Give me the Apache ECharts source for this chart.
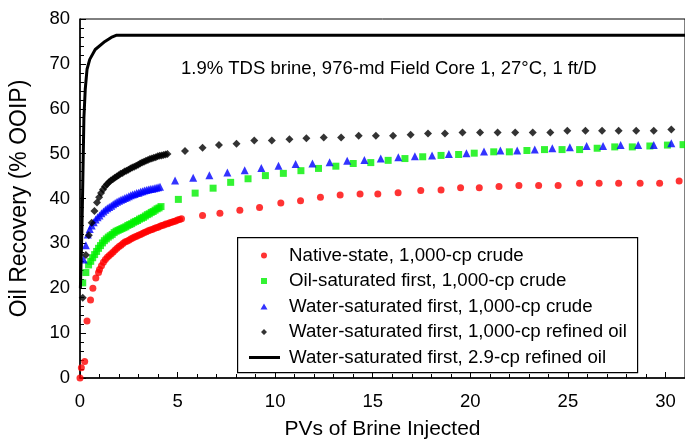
<!DOCTYPE html>
<html>
<head>
<meta charset="utf-8">
<script src="https://cdn.jsdelivr.net/npm/echarts@6/dist/echarts.min.js"></script>
<style>html,body{margin:0;padding:0;background:#fff}#c{width:685px;height:445px}</style>
</head>
<body>
<div id="c"></div>
<script>
// Native-state, 1,000-cp crude
const nativeState = [
  [0,0],[0.07,2.3],[0.24,3.7],[0.36,12.7],[0.54,17.4],[0.66,20.0],[0.81,22.3],[0.95,23.5],
  [1.0,24.2],[1.1,25.0],[1.2,25.8],[1.3,26.4],[1.4,26.9],[1.5,27.3],[1.6,27.7],[1.7,28.1],[1.8,28.5],[1.9,28.9],
  [2.0,29.3],[2.1,29.6],[2.2,30.0],[2.3,30.3],[2.4,30.5],[2.5,30.7],[2.6,31.0],[2.7,31.2],[2.8,31.4],[2.9,31.6],
  [3.0,31.8],[3.1,32.0],[3.2,32.2],[3.3,32.4],[3.4,32.6],[3.5,32.8],[3.6,33.0],[3.7,33.1],[3.8,33.3],[3.9,33.5],
  [4.0,33.6],[4.1,33.8],[4.2,34.0],[4.3,34.1],[4.4,34.3],[4.5,34.4],[4.6,34.6],[4.7,34.7],[4.8,34.9],[4.9,35.0],
  [5.0,35.2],[5.1,35.3],[5.2,35.5],
  [6.28,36.2],[7.17,36.7],[8.19,37.4],[9.2,38.0],[10.29,39.0],[11.3,39.5],[12.32,40.3],[13.33,40.8],[14.35,41.0],
  [15.26,41.0],[16.3,41.3],[17.46,41.8],[18.5,41.9],[19.5,42.4],[20.46,42.4],[21.47,42.7],[22.49,42.9],[23.5,42.9],
  [24.5,42.9],[25.6,43.4],[26.6,43.4],[27.6,43.4],[28.7,43.4],[29.7,43.4],[30.7,43.9]
];
// Oil-saturated first, 1,000-cp crude
const oilSatFirst = [
  [0.14,21.2],[0.3,23.5],[0.44,25.2],[0.55,26.0],[0.65,26.8],[0.75,27.5],[0.85,28.2],[0.95,28.9],[1.05,29.5],
  [1.15,30.1],[1.25,30.6],[1.35,31.0],[1.45,31.4],[1.55,31.7],[1.65,32.0],[1.75,32.4],[1.85,32.7],[1.95,32.9],
  [2.05,33.1],[2.15,33.3],[2.25,33.5],[2.35,33.7],[2.45,34.0],[2.55,34.2],[2.65,34.4],[2.75,34.7],[2.85,34.9],
  [2.95,35.1],[3.05,35.4],[3.15,35.6],[3.25,35.8],[3.35,36.1],[3.45,36.4],[3.55,36.6],[3.65,36.9],[3.75,37.1],
  [3.85,37.4],[3.95,37.7],[4.05,37.9],[4.15,38.2],
  [5.04,39.8],[5.9,41.2],[6.82,42.3],[7.72,43.6],[8.61,44.4],[9.5,45.1],[10.42,45.6],[11.32,46.2],[12.22,46.7],
  [13.11,47.2],[14.0,47.8],[14.9,48.0],[15.79,48.5],[16.65,48.9],[17.56,49.3],[18.5,49.6],[19.4,49.8],[20.2,50.1],
  [21.2,50.4],[22.0,50.4],[22.9,50.7],[23.8,50.9],[24.7,50.9],[25.6,50.9],[26.5,51.2],[27.4,51.5],[28.3,51.5],
  [29.2,51.7],[30.1,51.9],[30.9,52.0]
];
// Water-saturated first, 1,000-cp crude
const waterSatCrude = [
  [0.19,26.4],[0.3,29.6],[0.4,32.0],[0.5,33.2],[0.6,34.0],[0.7,34.7],[0.8,35.3],[0.9,35.8],[1.0,36.2],[1.1,36.7],
  [1.2,37.1],[1.3,37.5],[1.4,37.8],[1.5,38.1],[1.6,38.4],[1.7,38.7],[1.8,39.0],[1.9,39.3],[2.0,39.5],[2.1,39.7],
  [2.2,39.9],[2.3,40.1],[2.4,40.3],[2.5,40.5],[2.6,40.7],[2.7,40.9],[2.8,41.0],[2.9,41.2],[3.0,41.3],[3.1,41.5],
  [3.2,41.6],[3.3,41.8],[3.4,41.9],[3.5,42.0],[3.6,42.1],[3.7,42.2],[3.8,42.3],[3.9,42.4],[4.0,42.5],[4.1,42.6],
  [4.87,44.0],[5.8,44.6],[6.63,45.2],[7.55,45.8],[8.44,46.3],[9.29,46.8],[10.17,47.3],[11.05,47.7],[11.91,47.8],
  [12.79,48.1],[13.69,48.4],[14.57,48.6],[15.41,48.9],[16.31,49.2],[17.16,49.4],[18.04,49.6],[18.9,49.9],[19.8,50.1],
  [20.7,50.5],[21.54,50.7],[22.4,50.7],[23.3,50.9],[24.2,51.2],[25.1,51.4],[25.96,51.7],[26.8,51.7],[27.7,51.9],
  [28.6,51.9],[29.4,51.9],[30.3,52.3]
];
// Water-saturated first, 1,000-cp refined oil
const waterSatRefined = [
  [0.14,17.9],[0.3,27.4],[0.45,31.8],[0.6,34.6],[0.74,37.2],[0.87,39.1],[0.98,40.3],[1.08,41.2],[1.18,42.0],
  [1.28,42.7],[1.38,43.2],[1.48,43.6],[1.58,44.0],[1.68,44.3],[1.78,44.6],[1.88,44.9],[1.98,45.2],[2.08,45.5],
  [2.18,45.7],[2.28,46.0],[2.38,46.2],[2.48,46.4],[2.58,46.7],[2.68,46.9],[2.78,47.1],[2.88,47.3],[2.98,47.5],
  [3.08,47.8],[3.18,48.0],[3.28,48.2],[3.38,48.4],[3.48,48.6],[3.58,48.8],[3.68,48.9],[3.78,49.1],[3.88,49.2],
  [3.98,49.4],[4.08,49.5],[4.18,49.6],[4.28,49.7],[4.38,49.8],[4.48,49.9],
  [5.38,50.6],[6.28,51.3],[7.12,51.9],[8.02,52.2],[8.93,52.9],[9.83,52.9],[10.73,53.2],[11.6,53.4],[12.49,53.6],
  [13.38,53.6],[14.28,54.0],[15.16,54.0],[16.04,54.0],[16.94,54.2],[17.83,54.5],[18.7,54.5],[19.6,54.7],[20.5,54.7],
  [21.4,54.7],[22.3,54.7],[23.2,54.7],[24.1,54.7],[24.97,55.1],[25.9,55.1],[26.75,55.1],[27.6,55.1],[28.5,55.1],
  [29.4,55.1],[30.3,55.4]
];
// Water-saturated first, 2.9-cp refined oil
const lowViscLine = [
  [0.02,20],[0.08,30],[0.12,38],[0.16,48],[0.2,58],[0.27,64.4],[0.36,68.8],[0.5,71.0],[0.78,73.2],
  [1.28,75.0],[1.6,75.9],[1.88,76.4],[31,76.4]
];
const seriesNames = [
  'Native-state, 1,000-cp crude',
  'Oil-saturated first, 1,000-cp crude',
  'Water-saturated first, 1,000-cp crude',
  'Water-saturated first, 1,000-cp refined oil',
  'Water-saturated first, 2.9-cp refined oil'
];
const annotation = '1.9% TDS brine, 976-md Field Core 1, 27°C, 1 ft/D';
const xTitle = 'PVs of Brine Injected';
const yTitle = 'Oil Recovery (% OOIP)';

// legend icon glyphs: drawn in a 35x6 box (corner anchors keep the box fixed)
const BOX = 'M0,0 L0.01,0.01 L0,0.01 Z M35,6 L34.99,5.99 L35,5.99 Z ';
const legendIcons = [
  'path://' + BOX + 'M12,3 A3,3 0 1,0 18,3 A3,3 0 1,0 12,3 Z',
  'path://' + BOX + 'M12,0 L18,0 L18,6 L12,6 Z',
  'path://' + BOX + 'M15,0 L18.5,6 L11.5,6 Z',
  'path://' + BOX + 'M15,0 L18,3 L15,6 L12,3 Z',
  'path://' + BOX + 'M0,1.4 L31,1.4 L31,4.6 L0,4.6 Z'
];

const FONT = 'Liberation Sans, Arial, Helvetica, sans-serif';
const chart = echarts.init(document.getElementById('c'), null, {renderer: 'canvas'});
chart.setOption({
  animation: false,
  backgroundColor: '#fff',
  textStyle: {fontFamily: FONT, color: '#000'},
  title: {
    text: annotation, left: 176, top: 54,
    textStyle: {fontFamily: FONT, fontSize: 18.5, fontWeight: 'normal', color: '#000'}
  },
  grid: {left: 78, top: 19, width: 611, height: 364, show: true, borderColor: '#000', borderWidth: 1, backgroundColor: 'transparent'},
  graphic: [{
    type: 'rect', left: 237, top: 237, shape: {width: 400, height: 135},
    style: {fill: '#fff', stroke: '#000', lineWidth: 1.2}, z: 90
  }],
  legend: {
    orient: 'vertical', left: 244, top: 241, itemGap: 6.5, itemWidth: 35, itemHeight: 6,
    z: 100,
    textStyle: {fontFamily: FONT, fontSize: 18.7, color: '#000'},
    data: seriesNames.map((n, i) => ({name: n, icon: legendIcons[i]}))
  },
  xAxis: {
    type: 'value', min: 0, max: 31, interval: 5,
    name: xTitle, nameLocation: 'middle', nameGap: 41,
    nameTextStyle: {fontFamily: FONT, fontSize: 21, color: '#000'},
    axisLine: {lineStyle: {color: '#000', width: 1.5}},
    axisTick: {inside: true, length: 6, lineStyle: {color: '#000'}},
    minorTick: {show: true, splitNumber: 5, length: 4, lineStyle: {color: '#000'}},
    axisLabel: {fontFamily: FONT, fontSize: 18.5, color: '#000', margin: 14, showMaxLabel: false},
    splitLine: {show: false}
  },
  yAxis: {
    type: 'value', min: 0, max: 80, interval: 10,
    name: yTitle, nameLocation: 'middle', nameGap: 49, nameRotate: 90,
    nameTextStyle: {fontFamily: FONT, fontSize: 23, color: '#000'},
    axisLine: {lineStyle: {color: '#000', width: 1.5}},
    axisTick: {inside: true, length: 6, lineStyle: {color: '#000'}},
    minorTick: {show: true, splitNumber: 5, length: 4, lineStyle: {color: '#000'}},
    axisLabel: {fontFamily: FONT, fontSize: 18.5, color: '#000', margin: 10},
    splitLine: {show: false}
  },
  series: [
    {name: seriesNames[0], type: 'scatter', data: nativeState, symbol: 'circle', symbolSize: 7,
     itemStyle: {color: '#ff0000'}, z: 3},
    {name: seriesNames[1], type: 'scatter', data: oilSatFirst, symbol: 'rect', symbolSize: 7,
     itemStyle: {color: '#00f000'}, z: 4},
    {name: seriesNames[2], type: 'scatter', data: waterSatCrude, symbol: 'triangle', symbolSize: 8,
     itemStyle: {color: '#0000ff'}, z: 5},
    {name: seriesNames[3], type: 'scatter', data: waterSatRefined, symbol: 'diamond', symbolSize: 8,
     itemStyle: {color: '#000'}, z: 6},
    {name: seriesNames[4], type: 'line', data: lowViscLine, symbol: 'none', showSymbol: false,
     lineStyle: {color: '#000', width: 3}, itemStyle: {color: '#000'}, z: 7}
  ]
});
</script>
</body>
</html>
